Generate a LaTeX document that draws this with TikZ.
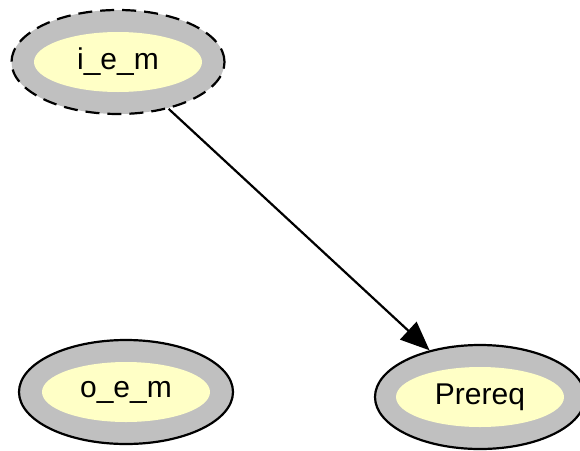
\documentclass[tikz,border=0pt]{standalone}
\usepackage{fontspec}
\setmainfont{Liberation Sans}
\usetikzlibrary{shapes.geometric,arrows.meta}
\definecolor{ringgray}{HTML}{C0C0C0}
\definecolor{nodeyellow}{HTML}{FFFFC6}
\tikzset{
  x=1pt,y=-1pt,
  ringnode/.style={ellipse, draw=black, line width=2.2pt, fill=ringgray,
    minimum width=#1, minimum height=104pt, inner sep=0pt,
    font=\fontsize{30}{36}\selectfont,
    path picture={\fill[nodeyellow] (path picture bounding box.center) ellipse [x radius=84pt, y radius=-30pt];}},
  edge/.style={line width=2.2pt, -{Triangle[length=29pt,width=24pt]}}
}
\begin{document}
\begin{tikzpicture}
\useasboundingbox (0,0) rectangle (580,450);
\node[ringnode=213pt, dash pattern=on 14pt off 8pt] (iem) at (118,62) {i\_e\_m};
\node[ringnode=214pt] (oem) at (126,392) {o\_e\_m};
\node[ringnode=210pt] (prereq) at (480,397) {Prereq};
\draw[edge] (iem) -- (prereq);
\end{tikzpicture}
\end{document}
